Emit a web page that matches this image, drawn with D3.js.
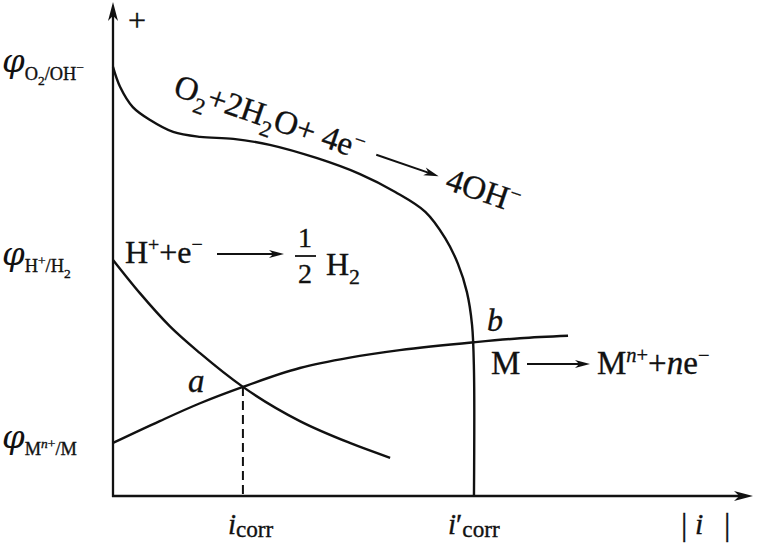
<!DOCTYPE html>
<html><head><meta charset="utf-8">
<script src="https://cdn.jsdelivr.net/npm/d3@7"></script>
<style>
body{margin:0;background:#fff}
svg{display:block}
text{font-family:"Liberation Serif","Times New Roman",serif;fill:#111;stroke:#111;stroke-width:0.35px}
</style>
</head><body>
<svg id="chart" width="757" height="543"></svg>
<script>
// ---------------- data ----------------
// cathodic O2 reduction curve (current, potential)
const o2Curve = [[0,8.65],[0.11,8.25],[0.31,7.84],[0.58,7.58],[0.94,7.34],[1.36,7.24],[1.88,7.20],
  [2.45,7.08],[3.19,6.81],[3.86,6.49],[4.41,6.13],[4.88,5.73],[5.19,5.20],[5.39,4.68],
  [5.53,4.11],[5.61,3.45],[5.64,2.54],[5.64,0]];
// cathodic H2 evolution curve
const h2Curve = [[0,4.76],[0.42,4.09],[0.89,3.42],[1.36,2.88],[2.03,2.20],[2.92,1.51],[3.70,1.07],[4.33,0.77]];
// anodic metal dissolution curve
const mCurve = [[0,1.07],[0.73,1.51],[1.36,1.87],[2.03,2.20],[2.92,2.58],[3.70,2.79],[4.48,2.94],
  [5.64,3.10],[6.36,3.18],[7.11,3.23]];
// equilibrium potentials on the y axis
const potentialValues = [8.65, 4.76, 1.07];
const potentialLabels = [
  [["φ","phi"],["O","sub"],["2","subsub"],["/OH","sub"],["−","subsup"]],
  [["φ","phi"],["H","sub"],["+","subsup"],["/H","sub"],["2","subsub"]],
  [["φ","phi"],["M","sub"],["n","subsupi"],["+","subsup"],["/M","sub"]]
];
// corrosion currents on the x axis
const currentTicks = [2.03, 5.64];
const currentLabels = [
  [["i","i"],["corr","xsub"]],
  [["i","i"],["′",""],["corr","xsub"]]
];
const pointNames = ["a","b"];
const pointValues = [[2.03,2.20],[5.64,3.10]];
const reactionO2Left = [["O",""],["2","sub"],["+2H",""],["2","sub"],["O+ 4e",""],["−","sup"]];
const reactionO2Right = [["4OH",""],["−","sup"]];
const reactionHLeft = [["H",""],["+","sup"],["+e",""],["−","sup"]];
const reactionHRight = [["H",""],["2","sub"]];
const reactionMLeft = [["M",""]];
const reactionMRight = [["M",""],["n","supi"],["+","sup"],["+",""],["n","i"],["e",""],["−","sup"]];
const axisLabelY = "+";
const axisLabelX = [["|",""],["i","i"],["|",""]];

// ---------------- chart ----------------
const svg = d3.select("#chart");
const ink = "#111";
const xScale = d3.scaleLinear().domain([0,10]).range([113,753]);
const yScale = d3.scaleLinear().domain([0,10]).range([496,0]);

const kinds = {
  "":       {r:1,    d:0,     it:false},
  "i":      {r:1,    d:0,     it:true},
  "phi":    {r:1.2,  d:0,     it:true, fam:"DejaVu Serif", sw:0},
  "sub":    {r:0.68, d:0.28,  it:false},
  "xsub":   {r:0.8,  d:0.1,   it:false},
  "subsub": {r:0.5,  d:0.5,   it:false},
  "subsup": {r:0.5,  d:0.0,   it:false},
  "subsupi":{r:0.5,  d:0.0,   it:true},
  "sup":    {r:0.62, d:-0.36, it:false},
  "supi":   {r:0.62, d:-0.36, it:true}
};
function rich(sel, segs, size){
  let cur = 0;
  segs.forEach(([t,k])=>{
    const s = kinds[k];
    const target = s.d*size;
    const ts = sel.append("tspan")
      .attr("dy", (target-cur).toFixed(2))
      .attr("font-size", (s.r*size).toFixed(2))
      .attr("font-style", s.it ? "italic" : "normal")
      .text(t);
    if (s.fam) ts.style("font-family", s.fam);
    if (s.sw !== undefined) ts.style("stroke-width", s.sw);
    cur = target;
  });
  return sel;
}
function arrowHead(g, x, y, angleDeg, len, wid){
  const p = `M0,0 L${-len},${-wid/2} L${-len*0.72},0 L${-len},${wid/2} Z`;
  g.append("path").attr("d", p).attr("fill", ink)
    .attr("transform", `translate(${x},${y}) rotate(${angleDeg})`);
}

// axes
const xAxis = d3.axisBottom(xScale).tickValues([]).tickSizeOuter(0);
const yAxis = d3.axisLeft(yScale).tickValues([]).tickSizeOuter(0);
const gx = svg.append("g").attr("transform", `translate(0,${yScale(0)})`).call(xAxis);
const gy = svg.append("g").attr("transform", `translate(${xScale(0)},0)`).call(yAxis);
[gx, gy].forEach(g=>g.select(".domain").attr("stroke", ink).attr("stroke-width", 2.3));
gx.select(".domain").attr("d", `M${xScale(0)-1},0H${xScale(10)-8}`);
gy.select(".domain").attr("d", `M0,${yScale(0)+1}V${yScale(9.96)+8}`);
arrowHead(svg, xScale(10), yScale(0), 0, 19, 10);
arrowHead(svg, xScale(0), yScale(9.96), -90, 19, 10);

// curves
const lineO = d3.line().x(d=>xScale(d[0])).y(d=>yScale(d[1])).curve(d3.curveCatmullRom.alpha(0.5));
const lineM = d3.line().x(d=>xScale(d[0])).y(d=>yScale(d[1])).curve(d3.curveMonotoneX);
svg.append("path").attr("d", lineO(o2Curve)).attr("fill","none")
  .attr("stroke", ink).attr("stroke-width", 2.4);
[h2Curve, mCurve].forEach(c=>{
  svg.append("path").attr("d", lineM(c)).attr("fill","none")
    .attr("stroke", ink).attr("stroke-width", 2.4);
});
// dashed drop line at i_corr
svg.append("line")
  .attr("x1", xScale(pointValues[0][0])).attr("x2", xScale(pointValues[0][0]))
  .attr("y1", yScale(pointValues[0][1])).attr("y2", yScale(0))
  .attr("stroke", ink).attr("stroke-width", 2).attr("stroke-dasharray", "9,5");

// y-axis potential labels
potentialValues.forEach((v,i)=>{
  rich(svg.append("text").attr("x", 2).attr("y", yScale(v)+5), potentialLabels[i], 27);
});
// x-axis current labels
currentTicks.forEach((v,i)=>{
  const t = svg.append("text").attr("x", xScale(v)-15 - (i===1?11:0)).attr("y", 534);
  rich(t, currentLabels[i], 29);
});
// axis names
svg.append("text").attr("x", 137).attr("y", 31).attr("text-anchor","middle")
  .attr("font-size", 32).attr("stroke-width",0.2).text(axisLabelY);
svg.append("text").attr("x", 681).attr("y", 535).attr("font-size", 32).attr("stroke-width",0.1).text(axisLabelX[0][0]);
svg.append("text").attr("x", 695).attr("y", 534).attr("font-size", 30).attr("font-style","italic").text(axisLabelX[1][0]);
svg.append("text").attr("x", 724).attr("y", 535).attr("font-size", 32).attr("stroke-width",0.1).text(axisLabelX[2][0]);

// point labels
svg.append("text").attr("x", xScale(pointValues[0][0])-55).attr("y", yScale(pointValues[0][1])+5)
  .attr("font-size", 33).attr("font-style","italic").text(pointNames[0]);
svg.append("text").attr("x", xScale(pointValues[1][0])+13).attr("y", yScale(pointValues[1][1])-11)
  .attr("font-size", 32).attr("font-style","italic").text(pointNames[1]);

// reaction: O2 (rotated along the curve)
const gO = svg.append("g").attr("transform", "translate(172,95) rotate(19)");
const tO = rich(gO.append("text").attr("x",0).attr("y",0), reactionO2Left, 33);
const LO = tO.node().getComputedTextLength();
gO.append("line").attr("x1", LO+14).attr("x2", LO+72).attr("y1",-10).attr("y2",-10)
  .attr("stroke", ink).attr("stroke-width", 2);
arrowHead(gO, LO+80, -10, 0, 15, 8);
rich(gO.append("text").attr("x", LO+89).attr("y", 0), reactionO2Right, 33);

// reaction: H+
rich(svg.append("text").attr("x",125).attr("y",263), reactionHLeft, 32);
svg.append("line").attr("x1",217).attr("x2",276).attr("y1",254).attr("y2",254)
  .attr("stroke", ink).attr("stroke-width", 2);
arrowHead(svg, 284, 254, 0, 15, 8);
svg.append("text").attr("x",305).attr("y",247).attr("text-anchor","middle").attr("font-size",28).text("1");
svg.append("line").attr("x1",295).attr("x2",316).attr("y1",256).attr("y2",256)
  .attr("stroke", ink).attr("stroke-width", 1.8);
svg.append("text").attr("x",305).attr("y",283).attr("text-anchor","middle").attr("font-size",28).text("2");
rich(svg.append("text").attr("x",326).attr("y",275), reactionHRight, 32);

// reaction: M
rich(svg.append("text").attr("x",491).attr("y",374), reactionMLeft, 33);
svg.append("line").attr("x1",527).attr("x2",582).attr("y1",364).attr("y2",364)
  .attr("stroke", ink).attr("stroke-width", 2);
arrowHead(svg, 590, 364, 0, 15, 8);
rich(svg.append("text").attr("x",597).attr("y",374), reactionMRight, 33);
</script>
</body></html>
